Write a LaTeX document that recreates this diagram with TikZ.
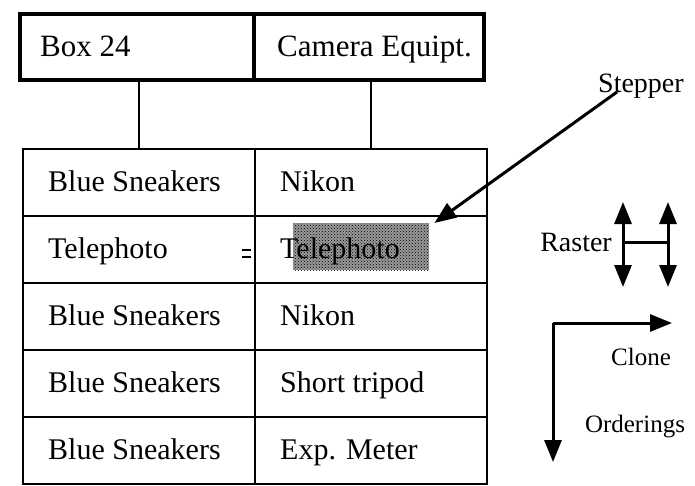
\documentclass[tikz,border=0pt]{standalone}
\usepackage{fontspec}
\setmainfont{Liberation Serif}
\usetikzlibrary{arrows.meta,patterns}
\begin{document}
\begin{tikzpicture}[x=1pt,y=-1pt,
  topcell/.style={draw, line width=4pt, anchor=north west, minimum height=66pt, inner sep=0pt},
  cell/.style={draw, line width=2.2pt, anchor=north west, minimum width=232pt, minimum height=67pt, inner sep=0pt},
  celltxt/.style={anchor=base west, inner sep=0pt, font=\fontsize{30}{30}\selectfont},
  toptxt/.style={anchor=base west, inner sep=0pt, font=\fontsize{31}{31}\selectfont},
  lbl/.style={inner sep=0pt, font=\fontsize{28}{28}\selectfont},
  slbl/.style={inner sep=0pt, font=\fontsize{25}{25}\selectfont},
  link/.style={line width=2.2pt},
  arr/.style={line width=3pt, -{Triangle[length=22pt,width=17pt]}},
  dblarr/.style={line width=3pt, {Triangle[length=22pt,width=17pt]}-{Triangle[length=22pt,width=17pt]}},
  selbox/.style={anchor=north west, minimum width=136pt, minimum height=47pt, inner sep=0pt, preaction={fill=black!40}, pattern=crosshatch dots, pattern color=black}]
\useasboundingbox (0,0) rectangle (695,485);
% top record
\node[topcell, minimum width=234pt] (box) at (18,12) {};
\node[topcell, minimum width=230pt] (cam) at (252,12) {};
\node[toptxt] (boxt) at ([xshift=22pt,yshift=-9pt]box.west) {Box 24};
\node[toptxt] (camt) at ([xshift=25pt,yshift=-9pt]cam.west) {Camera Equipt.};
% selection shading
\node[selbox] (sel) at (293,223) {};
% table
\node[cell] (a1) at (22,148) {};
\node[cell] (b1) at (254,148) {};
\node[cell] (a2) at (22,215) {};
\node[cell] (b2) at (254,215) {};
\node[cell] (a3) at (22,282) {};
\node[cell] (b3) at (254,282) {};
\node[cell] (a4) at (22,349) {};
\node[cell] (b4) at (254,349) {};
\node[cell] (a5) at (22,416) {};
\node[cell] (b5) at (254,416) {};
\foreach \c/\t in {a1/Blue Sneakers,a2/Telephoto,a3/Blue Sneakers,a4/Blue Sneakers,a5/Blue Sneakers}
  \node[celltxt] (\c t) at ([xshift=26pt,yshift=-9pt]\c.west) {\t};
\foreach \c/\t in {b1/Nikon,b2/Telephoto,b3/Nikon,b4/Short tripod,b5/Exp. Meter}
  \node[celltxt] (\c t) at ([xshift=26pt,yshift=-9pt]\c.west) {\t};
% small mark at divider
\draw[line width=1.6pt] (242,250) -- (251,250) (242,257) -- (251,257);
% connectors between records
\draw[link] (a1.north |- box.south) -- (a1.north);
\draw[link] (b1.north |- cam.south) -- (b1.north);
% stepper
\node[lbl, anchor=base west] (stepper) at (598,92) {Stepper};
\coordinate (stp) at (617,92);
\draw[arr] (stp) -- ([xshift=5pt]sel.north east);
% raster
\node[lbl, anchor=east] (raster) at (612,242) {Raster};
\coordinate (rl1) at (623,202);
\coordinate (rl2) at (623,287);
\coordinate (rr1) at (668,202);
\coordinate (rr2) at (668,287);
\draw[dblarr] (rl1) -- (rl2);
\draw[dblarr] (rr1) -- (rr2);
\draw[line width=3pt] (rl1 |- raster) -- (rr1 |- raster);
% clone / orderings
\coordinate (corner) at (553,323);
\coordinate (cloneend) at (672,323);
\coordinate (orderend) at (553,462);
\draw[arr] (corner) -- (cloneend);
\draw[arr] (corner) -- (orderend);
\node[slbl] (clone) at (641,357) {Clone};
\node[slbl] (orderings) at (635,427) {Orderings};
\end{tikzpicture}
\end{document}
